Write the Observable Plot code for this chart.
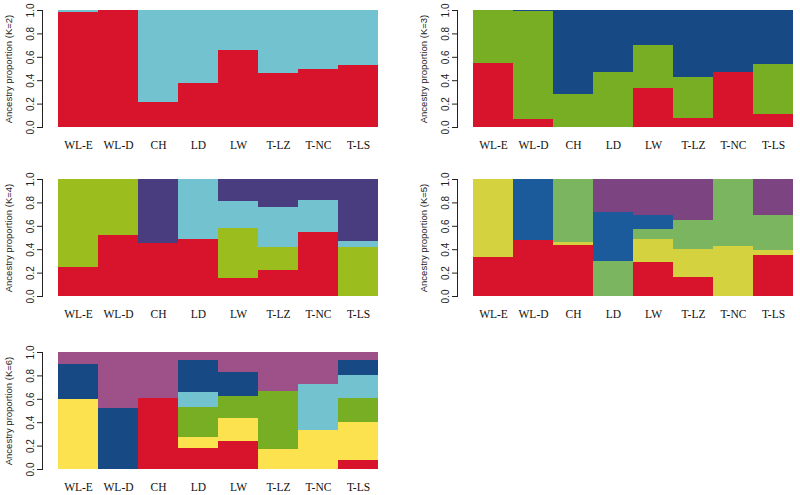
<!DOCTYPE html>
<html>
<head>
<meta charset="utf-8">
<script src="https://cdn.jsdelivr.net/npm/d3@7"></script>
<script src="https://cdn.jsdelivr.net/npm/@observablehq/plot@0.6"></script>
<style>
  html, body { margin: 0; padding: 0; background: #fff; }
  #wrap { position: relative; width: 800px; height: 495px; overflow: hidden; background: #fff; }
  .panel { position: absolute; }
</style>
</head>
<body>
<div id="wrap"></div>
<script>
// ---- data ----
const pops = ["WL-E", "WL-D", "CH", "LD", "LW", "T-LZ", "T-NC", "T-LS"];
const yTicks = [0, 0.2, 0.4, 0.6, 0.8, 1.0];

// K=2 (bottom to top)
const k2c1 = [0.985, 1.00, 0.21, 0.38, 0.66, 0.46, 0.50, 0.53];
const k2c2 = [0.015, 0.00, 0.79, 0.62, 0.34, 0.54, 0.50, 0.47];

// K=3
const k3c1 = [0.55, 0.07, 0.00, 0.00, 0.33, 0.08, 0.47, 0.11];
const k3c2 = [0.45, 0.925, 0.28, 0.47, 0.37, 0.35, 0.00, 0.43];
const k3c3 = [0.00, 0.005, 0.72, 0.53, 0.30, 0.57, 0.53, 0.46];

// K=4
const k4c1 = [0.25, 0.52, 0.45, 0.49, 0.15, 0.22, 0.55, 0.00];
const k4c2 = [0.75, 0.48, 0.00, 0.00, 0.43, 0.20, 0.00, 0.42];
const k4c3 = [0.00, 0.00, 0.00, 0.51, 0.23, 0.34, 0.27, 0.05];
const k4c4 = [0.00, 0.00, 0.55, 0.00, 0.19, 0.24, 0.18, 0.53];

// K=5
const k5c1 = [0.33, 0.48, 0.44, 0.00, 0.29, 0.16, 0.00, 0.35];
const k5c2 = [0.67, 0.00, 0.02, 0.00, 0.20, 0.24, 0.43, 0.04];
const k5c3 = [0.00, 0.00, 0.54, 0.30, 0.08, 0.25, 0.57, 0.30];
const k5c4 = [0.00, 0.52, 0.00, 0.42, 0.12, 0.00, 0.00, 0.00];
const k5c5 = [0.00, 0.00, 0.00, 0.28, 0.31, 0.35, 0.00, 0.31];

// K=6
const k6c1 = [0.00, 0.00, 0.61, 0.18, 0.24, 0.00, 0.00, 0.08];
const k6c2 = [0.60, 0.00, 0.00, 0.09, 0.20, 0.17, 0.33, 0.32];
const k6c3 = [0.00, 0.00, 0.00, 0.26, 0.18, 0.50, 0.00, 0.21];
const k6c4 = [0.00, 0.00, 0.00, 0.13, 0.00, 0.00, 0.40, 0.19];
const k6c5 = [0.30, 0.52, 0.00, 0.27, 0.21, 0.00, 0.00, 0.13];
const k6c6 = [0.10, 0.48, 0.39, 0.07, 0.17, 0.33, 0.27, 0.07];

// ---- styles (colours per cluster, bottom to top) ----
const RED = "#d7142b", LBLUE = "#72c3cf", DBLUE = "#174985";
const SERIF = "'Liberation Serif', 'DejaVu Serif', serif";
const SANS = "'Liberation Sans', Arial, sans-serif";
const panels = [
  {K: 2, series: [k2c1, k2c2], colors: [RED, LBLUE], left: 0, top: 0, mL: 55, mR: 20},
  {K: 3, series: [k3c1, k3c2, k3c3], colors: [RED, "#78ae23", DBLUE], left: 400, top: 0, mL: 70, mR: 5},
  {K: 4, series: [k4c1, k4c2, k4c3, k4c4], colors: [RED, "#9cbd1e", LBLUE, "#493c7f"], left: 0, top: 169, mL: 55, mR: 20},
  {K: 5, series: [k5c1, k5c2, k5c3, k5c4, k5c5], colors: [RED, "#d4d33f", "#7bb55f", "#1b5b9b", "#7c4480"], left: 400, top: 169, mL: 70, mR: 5},
  {K: 6, series: [k6c1, k6c2, k6c3, k6c4, k6c5, k6c6], colors: [RED, "#fde24f", "#78ae23", LBLUE, DBLUE, "#9e5189"], left: 0, top: 342, mL: 55, mR: 20}
];

const wrap = document.getElementById("wrap");
for (const p of panels) {
  const clusters = p.series.map((_, i) => "c" + (i + 1));
  const rows = [];
  p.series.forEach((vals, i) => vals.forEach((v, j) => rows.push({pop: pops[j], cluster: clusters[i], value: v})));
  const chart = Plot.plot({
    width: 400,
    height: 160,
    marginTop: 10,
    marginBottom: 33,
    marginLeft: p.mL,
    marginRight: p.mR,
    style: {background: "#fff", color: "#222", fontFamily: SANS, fontSize: "10px"},
    x: {domain: pops, padding: 0, label: null},
    y: {domain: [0, 1], label: null},
    color: {domain: clusters, range: p.colors},
    marks: [
      Plot.barY(rows, {x: "pop", y: "value", fill: "cluster", shapeRendering: "crispEdges"}),
      Plot.axisX({tickSize: 0, tickPadding: 13, fill: "#111"}),
      Plot.axisY({ticks: yTicks, tickFormat: ".1f", tickSize: 5, tickRotate: -90, dx: -13, fill: "#222", stroke: "#222"}),
      Plot.frame({anchor: "left", dx: -13, stroke: "#222"}),
      Plot.text([`Ancestry proportion (K=${p.K})`], {frameAnchor: "left", textAnchor: "middle", rotate: -90, dx: -47, fontSize: 9.5, fill: "#222"})
    ]
  });
  // population labels in a serif face, as in the original R barplot
  d3.select(chart).selectAll("text")
    .filter(function() { return pops.includes(this.textContent); })
    .style("font-family", SERIF).style("font-size", "11.5px");
  const div = document.createElement("div");
  div.className = "panel";
  div.style.left = p.left + "px";
  div.style.top = p.top + "px";
  div.appendChild(chart);
  wrap.appendChild(div);
}
</script>
</body>
</html>
